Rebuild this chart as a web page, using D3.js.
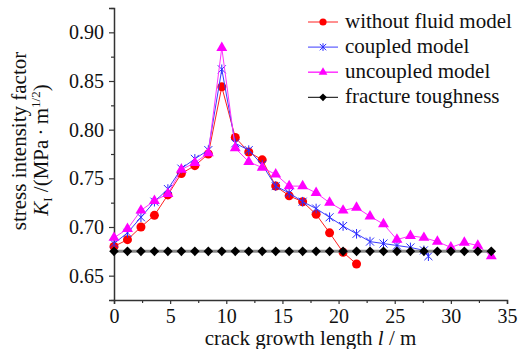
<!DOCTYPE html>
<html>
<head>
<meta charset="utf-8">
<script src="https://cdn.jsdelivr.net/npm/d3@7"></script>
<style>
  body { margin: 0; background: #fff; }
  svg { display: block; }
  svg text { font-family: "Liberation Serif", "Times New Roman", Times, "DejaVu Serif", serif; }
</style>
</head>
<body>
<div id="chart"></div>
<script>
// crack length (m) and K_I values
const lengthAll = [0, 1.2, 2.4, 3.6, 4.8, 6.0, 7.2, 8.4, 9.6, 10.8, 12.0, 13.2, 14.4, 15.6, 16.8,
  18.0, 19.2, 20.4, 21.6, 22.8, 24.0, 25.2, 26.4, 27.6, 28.8, 30.0, 31.2, 32.4, 33.6];

const lengthWithoutFluid = [0, 1.2, 2.4, 3.6, 4.8, 6.0, 7.2, 8.4, 9.6, 10.8, 12.0, 13.2, 14.4, 15.6,
  16.8, 18.0, 19.2, 20.4, 21.6];
const kWithoutFluid = [0.680, 0.687, 0.700, 0.712, 0.733, 0.755, 0.763, 0.775, 0.844, 0.792, 0.777,
  0.769, 0.742, 0.732, 0.726, 0.713, 0.694, 0.674, 0.662];

const lengthCoupled = [0, 1.2, 2.4, 3.6, 4.8, 6.0, 7.2, 8.4, 9.6, 10.8, 12.0, 13.2, 14.4, 15.6, 16.8,
  18.0, 19.2, 20.4, 21.6, 22.8, 24.0, 25.2, 26.4, 27.6, 28.0];
const kCoupled = [0.683, 0.694, 0.710, 0.726, 0.739, 0.760, 0.770, 0.779, 0.862, 0.786, 0.779, 0.764,
  0.742, 0.735, 0.726, 0.719, 0.710, 0.701, 0.693, 0.685, 0.683, 0.681, 0.679, 0.676, 0.670];

const lengthUncoupled = lengthAll;
const kUncoupled = [0.689, 0.698, 0.717, 0.727, 0.734, 0.759, 0.766, 0.776, 0.884, 0.781, 0.767,
  0.761, 0.754, 0.742, 0.742, 0.735, 0.725, 0.717, 0.720, 0.711, 0.703, 0.687, 0.691, 0.689, 0.685,
  0.679, 0.684, 0.681, 0.670];

const lengthToughness = lengthAll;
const kToughness = lengthAll.map(() => 0.675);

const xTicks = [0, 5, 10, 15, 20, 25, 30, 35];
const xMinorTicks = [2.5, 7.5, 12.5, 17.5, 22.5, 27.5, 32.5];
const yTicks = [0.65, 0.70, 0.75, 0.80, 0.85, 0.90];
const yMinorTicks = [0.625, 0.675, 0.725, 0.775, 0.825, 0.875, 0.925];

const serif = '"Liberation Serif", "Times New Roman", Times, "DejaVu Serif", serif';

const width = 529;
const height = 349;
const margin = { top: 8, right: 22, bottom: 49, left: 114 };

const svg = d3.select('#chart')
  .append('svg')
    .attr('width', width)
    .attr('height', height)
    .attr('font-family', serif);

const x = d3.scaleLinear()
  .domain([0, 35])
  .range([margin.left, width - margin.right]);

const y = d3.scaleLinear()
  .domain([0.625, 0.925])
  .range([height - margin.bottom, margin.top]);

// axes
const axisColor = '#333';

svg.append('g')
  .attr('transform', 'translate(0,' + y(0.625) + ')')
  .call(d3.axisBottom(x).tickValues(xTicks).tickSize(4).tickPadding(5).tickFormat(d3.format('d')));
svg.append('g')
  .attr('transform', 'translate(0,' + y(0.625) + ')')
  .call(d3.axisBottom(x).tickValues(xMinorTicks).tickSize(3).tickFormat(''))
  .call(g => g.select('.domain').remove());

svg.append('g')
  .attr('transform', 'translate(' + x(0) + ',0)')
  .call(d3.axisLeft(y).tickValues(yTicks).tickSize(5).tickPadding(5).tickFormat(d3.format('.2f')));
svg.append('g')
  .attr('transform', 'translate(' + x(0) + ',0)')
  .call(d3.axisLeft(y).tickValues(yMinorTicks).tickSize(3).tickFormat(''))
  .call(g => g.select('.domain').remove());

// d3 puts sans-serif on each axis group, undo that
svg.selectAll('g').attr('font-family', null).attr('font-size', null);
svg.selectAll('.domain').attr('stroke', axisColor).attr('stroke-width', 1.5);
svg.selectAll('.tick line').attr('stroke', axisColor).attr('stroke-width', 1.2);
svg.selectAll('.tick text')
  .attr('fill', '#111')
  .style('font-family', serif)
  .style('font-size', '20px');

// axis titles
const xTitle = svg.append('text')
  .attr('x', (x(0) + x(35)) / 2)
  .attr('y', 345)
  .attr('text-anchor', 'middle')
  .style('font-size', '21px')
  .attr('fill', '#111');
xTitle.append('tspan').text('crack growth length ');
xTitle.append('tspan').style('font-style', 'italic').text('l');
xTitle.append('tspan').text(' / m');

svg.append('text')
  .attr('transform', 'translate(26,141) rotate(-90)')
  .attr('text-anchor', 'middle')
  .style('font-size', '21px')
  .attr('fill', '#111')
  .text('stress intensity factor');

const yTitle = svg.append('text')
  .attr('transform', 'translate(48,150) rotate(-90)')
  .attr('text-anchor', 'middle')
  .style('font-size', '21px')
  .attr('fill', '#111');
yTitle.append('tspan').style('font-style', 'italic').text('K');
yTitle.append('tspan').attr('dy', 4).style('font-size', '13px').text('I');
yTitle.append('tspan').attr('dy', -4).text(' /(MPa\u2009\u00b7\u2009m');
yTitle.append('tspan').attr('dy', -8).style('font-size', '13px').text('1/2');
yTitle.append('tspan').attr('dy', 8).text(')');

// markers
function starPath(r) {
  return 'M' + (-r) + ',' + (-r) + 'L' + r + ',' + r +
         'M' + (-r) + ',' + r + 'L' + r + ',' + (-r) +
         'M0,' + (-r * 1.2) + 'L0,' + (r * 1.2);
}

const series = [
  { name: 'without fluid model', xs: lengthWithoutFluid, ys: kWithoutFluid, color: '#ff0000', lineColor: '#ff2020', lineWidth: 1, marker: 'circle' },
  { name: 'coupled model', xs: lengthCoupled, ys: kCoupled, color: '#2a2aff', lineColor: '#3b3bff', lineWidth: 1, marker: 'star' },
  { name: 'uncoupled model', xs: lengthUncoupled, ys: kUncoupled, color: '#ff00ff', lineColor: '#ff33ff', lineWidth: 1, marker: 'triangle' },
  { name: 'fracture toughness', xs: lengthToughness, ys: kToughness, color: '#000', lineColor: '#8a8a8a', lineWidth: 3, marker: 'diamond' }
];

function drawMarker(g, s, scale) {
  if (s.marker === 'circle') {
    g.append('circle').attr('r', 4.5 * scale).attr('fill', s.color);
  } else if (s.marker === 'star') {
    g.append('path').attr('d', starPath(4 * scale))
      .attr('fill', 'none').attr('stroke', s.color).attr('stroke-width', 1);
  } else if (s.marker === 'triangle') {
    g.append('path').attr('d', d3.symbol(d3.symbolTriangle, 52 * scale * scale)())
      .attr('fill', s.color);
  } else {
    g.append('path').attr('d', d3.symbol(d3.symbolSquare, 46 * scale * scale)())
      .attr('transform', 'rotate(45)')
      .attr('fill', s.color);
  }
}

const line = d3.line()
  .x(d => x(d[0]))
  .y(d => y(d[1]));

series.forEach(s => {
  const pts = s.xs.map((v, i) => [v, s.ys[i]]);
  svg.append('path')
    .datum(pts)
    .attr('d', line)
    .attr('fill', 'none')
    .attr('stroke', s.lineColor)
    .attr('stroke-width', s.lineWidth);

  svg.append('g').selectAll('g')
    .data(pts)
    .enter()
    .append('g')
      .attr('transform', d => 'translate(' + x(d[0]) + ',' + y(d[1]) + ')')
      .each(function() { drawMarker(d3.select(this), s, 1); });
});

// legend
const legend = svg.append('g');
series.forEach((s, i) => {
  const ly = 22 + i * 25.1;
  legend.append('line')
    .attr('x1', 308).attr('x2', 338)
    .attr('y1', ly).attr('y2', ly)
    .attr('stroke', s.marker === 'diamond' ? '#000' : s.lineColor)
    .attr('stroke-width', s.marker === 'triangle' ? 1.5 : 1);
  const mg = legend.append('g').attr('transform', 'translate(323,' + ly + ')');
  drawMarker(mg, s, 0.8);
  legend.append('text')
    .attr('x', 345)
    .attr('y', ly + 6)
    .style('font-size', '21px')
    .attr('fill', '#111')
    .text(s.name);
});
</script>
</body>
</html>
